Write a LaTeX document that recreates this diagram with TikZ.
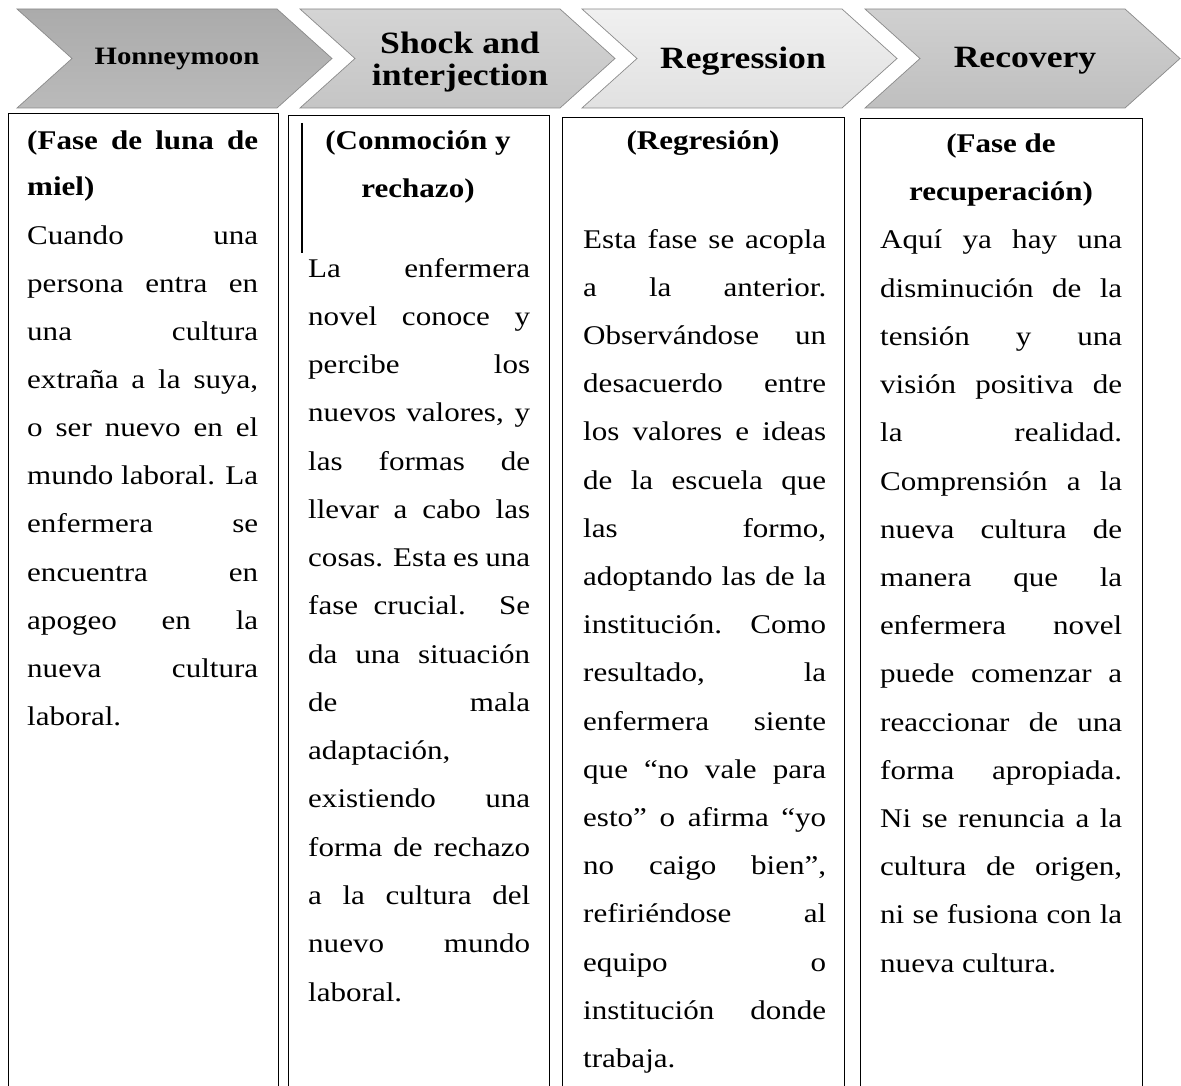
\documentclass[tikz,border=0pt]{standalone}
\usepackage{fontspec}
\setmainfont{Liberation Serif}[FakeStretch=1.15]
\usepackage{tikz}
\usetikzlibrary{positioning,calc}

\definecolor{chevAtop}{HTML}{ABABAB}
\definecolor{chevAbot}{HTML}{BABABA}
\definecolor{chevBtop}{HTML}{D4D4D4}
\definecolor{chevBbot}{HTML}{C5C5C5}
\definecolor{chevCtop}{HTML}{F0F0F0}
\definecolor{chevCbot}{HTML}{E1E1E1}
\definecolor{chevDtop}{HTML}{D0D0D0}
\definecolor{chevDbot}{HTML}{BFBFBF}
\definecolor{chevline}{HTML}{8A8A8A}

\tikzset{
	chev/.style={draw=chevline, line width=0.7pt},
	cellbox/.style={draw=black, line width=0.8pt},
	lbl/.style={inner sep=0pt, align=center, font=\bfseries\fontsize{31}{32}\selectfont},
	headline/.style={inner sep=0pt, anchor=base, font=\bfseries\fontsize{27}{48}\selectfont},
	bodyline/.style={inner sep=0pt, anchor=base west, font=\fontsize{27}{48}\selectfont},
}
\newcommand{\fillline}[2]{\makebox[#1][s]{#2}}

\begin{document}
\begin{tikzpicture}[x=1pt,y=-1pt]
		
		\useasboundingbox (0,0) rectangle (1181,1086);
		\clip (0,0) rectangle (1181,1086);
		
		% phase arrows
		\foreach \xo/\ct/\cb in {17/chevAtop/chevAbot, 300/chevBtop/chevBbot, 582/chevCtop/chevCbot, 865/chevDtop/chevDbot}
			\draw[chev,top color=\ct,bottom color=\cb] (\xo,9) -- ++(260,0) -- ++(55,49.5) -- ++(-55,49.5) -- ++(-260,0) -- ++(55,-49.5) -- cycle;
		
		\node[lbl,font=\bfseries\fontsize{25}{28}\selectfont] (honey) at (177,59) {Honneymoon};
		\node[lbl] (shock) at (460,62) {Shock and\\interjection};
		\node[lbl] (regr) at (743,61) {Regression};
		\node[lbl] (recov) at (1025,61) {Recovery};
		
		% columns
		\draw[cellbox] (8,1100) |- (278,113) -- (278,1100);
		\draw[cellbox] (288,1100) |- (549,115) -- (549,1100);
		\draw[cellbox] (562,1100) |- (844,117) -- (844,1100);
		\draw[cellbox] (860,1100) |- (1142,118) -- (1142,1100);
		
		\draw[line width=2.5pt] (302,123) -- (302,253);
		
		% column 1
		\node[headline,anchor=base west] (hA1) at (27,150) {\fillline{231pt}{(Fase de luna de}};
		\node[headline,anchor=base west] (hA2) at (27,196) {miel)};
		\foreach \ln [count=\i] in {{Cuando una}, {persona entra en}, {una cultura}, {extraña a la suya,}, {o ser nuevo en el}, {mundo laboral. La}, {enfermera se}, {encuentra en}, {apogeo en la}, {nueva cultura}, {laboral.\hfill}}
			\node[bodyline] (bA\i) at ({27},{244+48.15*(\i-1)}) {\fillline{231pt}{\ln}};
		
		% column 2
		\node[headline] (hB1) at (418,150) {(Conmoción y};
		\node[headline] (hB2) at (418,198) {rechazo)};
		\foreach \ln [count=\i] in {{La enfermera}, {novel conoce y}, {percibe los}, {nuevos valores, y}, {las formas de}, {llevar a cabo las}, {cosas. Esta es una}, {fase crucial. Se}, {da una situación}, {de mala}, {adaptación,\hfill}, {existiendo una}, {forma de rechazo}, {a la cultura del}, {nuevo mundo}, {laboral.\hfill}}
			\node[bodyline] (bB\i) at ({308},{277+48.27*(\i-1)}) {\fillline{222pt}{\ln}};
		
		% column 3
		\node[headline] (hC1) at (703,150) {(Regresión)};
		\foreach \ln [count=\i] in {{Esta fase se acopla}, {a la anterior.}, {Observándose un}, {desacuerdo entre}, {los valores e ideas}, {de la escuela que}, {las formo,}, {adoptando las de la}, {institución. Como}, {resultado, la}, {enfermera siente}, {que “no vale para}, {esto” o afirma “yo}, {no caigo bien”,}, {refiriéndose al}, {equipo o}, {institución donde}, {trabaja.\hfill}}
			\node[bodyline] (bC\i) at ({583},{248+48.2*(\i-1)}) {\fillline{243pt}{\ln}};
		
		% column 4
		\node[headline] (hD1) at (1001,153) {(Fase de};
		\node[headline] (hD2) at (1001,201) {recuperación)};
		\foreach \ln [count=\i] in {{Aquí ya hay una}, {disminución de la}, {tensión y una}, {visión positiva de}, {la realidad.}, {Comprensión a la}, {nueva cultura de}, {manera que la}, {enfermera novel}, {puede comenzar a}, {reaccionar de una}, {forma apropiada.}, {Ni se renuncia a la}, {cultura de origen,}, {ni se fusiona con la}, {nueva cultura.\hfill}}
			\node[bodyline] (bD\i) at ({880},{249+48.2*(\i-1)}) {\fillline{242pt}{\ln}};
		
	\end{tikzpicture}
\end{document}
